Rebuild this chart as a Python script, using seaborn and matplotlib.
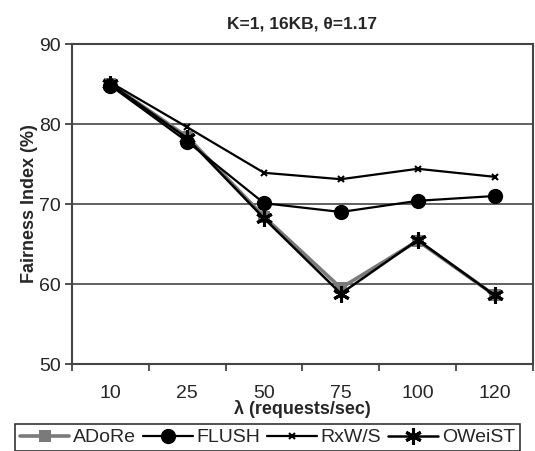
import numpy as np
import pandas as pd
import matplotlib
matplotlib.use("Agg")
import matplotlib.pyplot as plt
import seaborn as sns

# data
rates = ["10", "25", "50", "75", "100", "120"]
adore = [85.0, 78.4, 68.4, 59.5, 65.4, 58.6]
flush = [84.8, 77.8, 70.1, 69.0, 70.4, 71.0]
rxws = [85.2, 79.6, 73.9, 73.1, 74.4, 73.4]
oweist = [85.0, 78.2, 68.2, 58.8, 65.5, 58.6]

names = ["ADoRe", "FLUSH", "RxW/S", "OWeiST"]
series = [adore, flush, rxws, oweist]

sns.set_style("white")
plt.rcParams["font.family"] = ["Liberation Sans", "DejaVu Sans"]

fig = plt.figure(figsize=(5.35, 4.51), dpi=100)
ax = fig.add_axes([0.1346, 0.1929, 0.8616, 0.7095])

pos = np.arange(len(rates))
df = pd.DataFrame({"pos": np.tile(pos, len(names)),
                   "val": np.concatenate(series),
                   "name": np.repeat(names, len(rates))})

styles = {
    "ADoRe": dict(color="#7a7a7a", marker="s", markersize=9, lw=2.6, mew=0),
    "FLUSH": dict(color="black", marker="o", markersize=11, lw=1.6, mew=0),
    "RxW/S": dict(color="black", marker="x", markersize=5, lw=1.6, mew=1.5),
    "OWeiST": dict(color="black", marker=(6, 2, 0), markersize=12, lw=1.8, mew=2.2),
}
for n in names:
    s = styles[n]
    sns.lineplot(data=df[df["name"] == n], x="pos", y="val", ax=ax, label=n,
                 color=s["color"], marker=s["marker"], markersize=s["markersize"],
                 linewidth=s["lw"], markeredgewidth=s["mew"],
                 markeredgecolor=s["color"], legend=False)

ax.set_xlim(-0.5, len(rates) - 0.5)
ax.set_ylim(50, 90)
ax.set_yticks([50, 60, 70, 80, 90])
ax.set_xticks(pos)
ax.set_xticklabels(rates)
ax.set_xticks(np.arange(-0.5, len(rates)), minor=True)
ax.tick_params(axis="x", which="major", length=0, pad=15, labelsize=14)
ax.tick_params(axis="x", which="minor", length=5, width=1.2, direction="out",
               bottom=True, color="#333333")
ax.tick_params(axis="y", length=5, width=1.2, direction="out", left=True,
               labelsize=14, color="#333333", pad=3)
ax.yaxis.grid(True, color="#555555", linewidth=1.3)
ax.set_axisbelow(True)
for sp in ax.spines.values():
    sp.set_color("#444444")
    sp.set_linewidth(1.5)

ax.set_xlabel("λ (requests/sec)", fontsize=13, fontweight="bold", labelpad=-1)
ax.set_ylabel("Fairness Index (%)", fontsize=13, fontweight="bold", labelpad=1)
ax.set_title("K=1, 16KB, θ=1.17", fontsize=12.5, fontweight="bold", pad=11)

handles, labels = ax.get_legend_handles_labels()
leg = fig.legend(handles, labels, loc="upper left", bbox_to_anchor=(0.028, 0.06),
                 borderaxespad=0, ncol=4, fontsize=14, frameon=True,
                 fancybox=False, edgecolor="black", handlelength=2.55,
                 handletextpad=0.2, columnspacing=0.35, borderpad=0.25)
leg.get_frame().set_linewidth(1.2)

fig.savefig("out.png", dpi=100)
